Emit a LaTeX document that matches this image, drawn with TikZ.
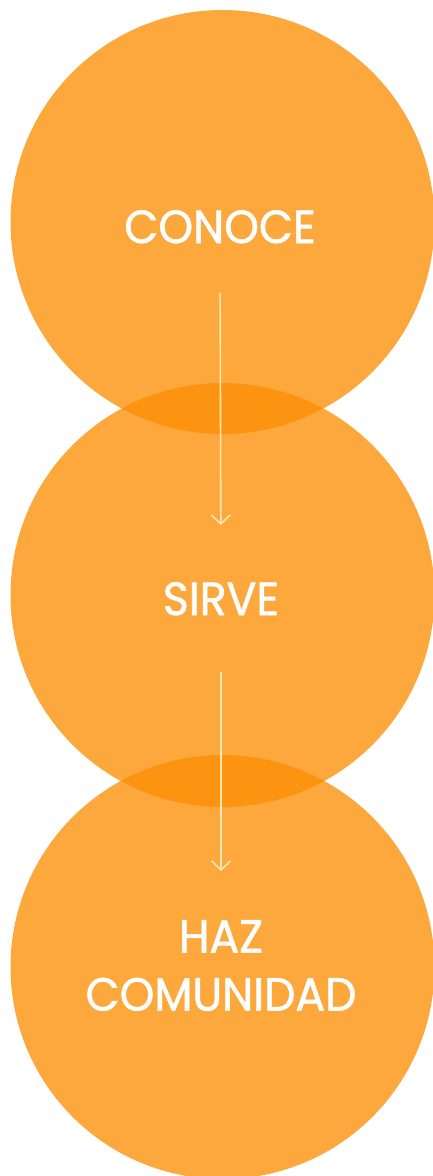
\documentclass[tikz,border=0pt]{standalone}
\usepackage{fontspec}
\setmainfont{Poppins}
\newfontfamily\lblfont[FakeBold=1.2,FakeStretch=0.95]{Poppins}
\usetikzlibrary{arrows.meta}
\definecolor{circ}{RGB}{252,143,6}
\definecolor{arr}{RGB}{255,230,178}
\begin{document}
\begin{tikzpicture}[x=1pt,y=-1pt,
  bubble/.style={circle, fill=circ, fill opacity=0.78, minimum size=424pt, inner sep=0pt},
  label/.style={text=white, inner sep=0pt, anchor=north, align=center, font=\lblfont\fontsize{46.5}{58}\selectfont},
  flow/.style={draw=arr, line width=1.6pt, -{Straight Barb[length=9pt,width=19pt]}}]
\useasboundingbox (0,0) rectangle (433,1176);
\clip (0,0) rectangle (433,1176);
\node[bubble] (c1) at (222.5,222) {};
\node[bubble] (c2) at (222.5,595) {};
\node[bubble] (c3) at (222.5,967) {};
\node[label] (t1) at (220,210) {CONOCE};
\node[label] (t2) at (221,582) {SIRVE};
\node[label] (t3) at (221,920) {HAZ\\COMUNIDAD};
\draw[flow, shorten <=49pt, shorten >=57pt] (t1.south) -- (t2.north);
\draw[flow, shorten <=56pt, shorten >=49pt] (t2.south) -- (t3.north);
\end{tikzpicture}
\end{document}
